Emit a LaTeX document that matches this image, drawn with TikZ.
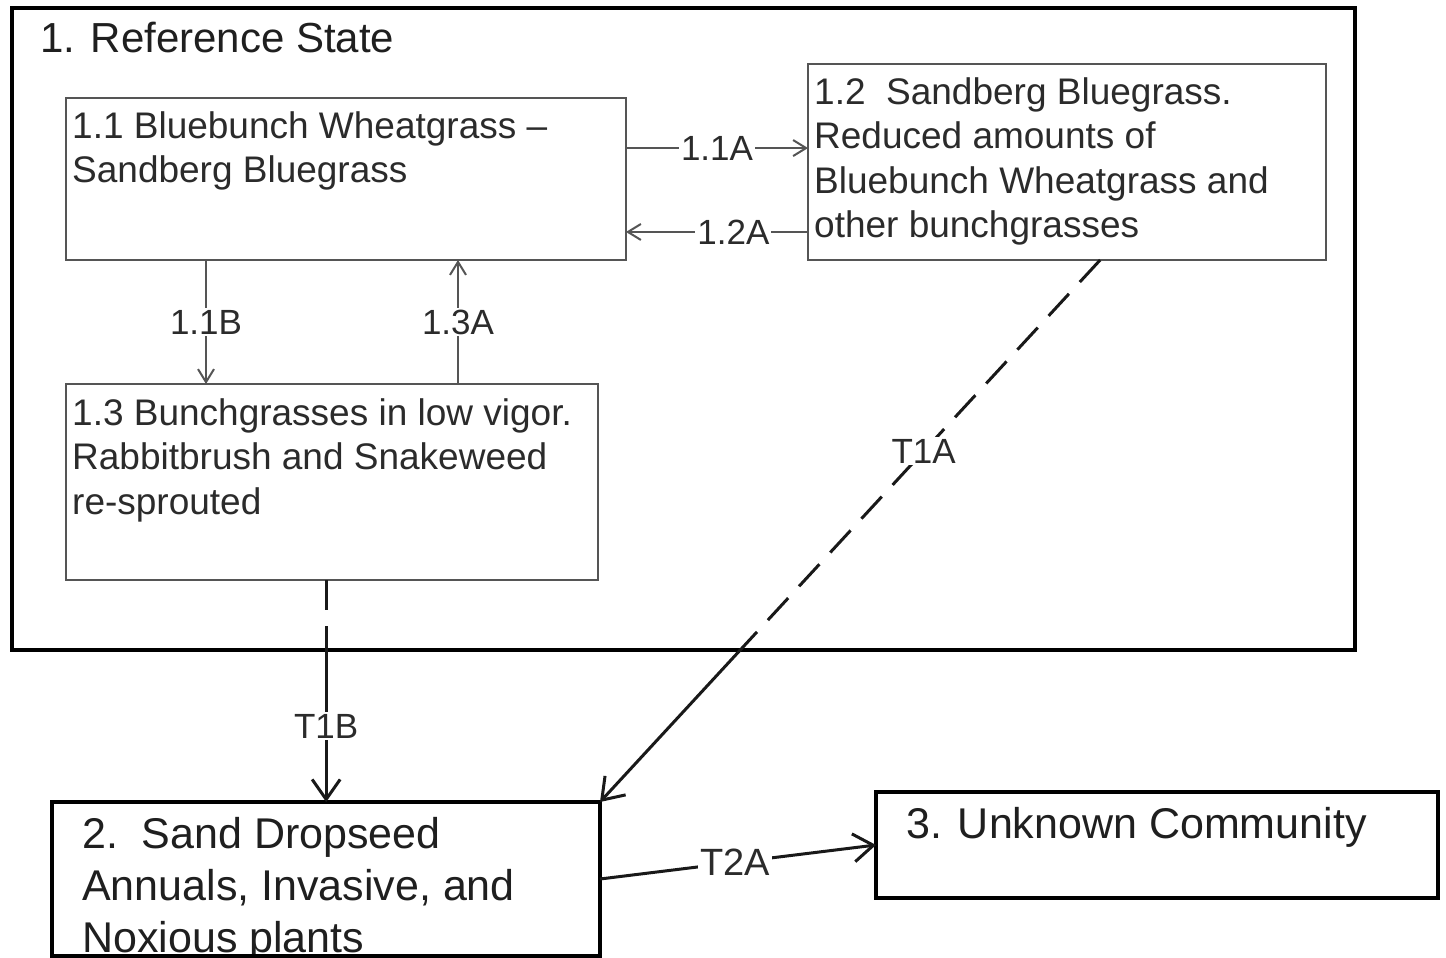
\documentclass[tikz,border=0pt]{standalone}
\usepackage{fontspec}
\setmainfont{Liberation Sans}
\usetikzlibrary{arrows.meta,calc}
\definecolor{boxgray}{HTML}{555555}
\definecolor{textgray}{HTML}{2B2B2B}
\begin{document}
\begin{tikzpicture}[x=1pt,y=-1pt,
  inbox/.style={draw=boxgray, line width=2.5pt, inner sep=0pt, outer sep=0pt, anchor=north west},
  outbox/.style={draw=black, line width=4.5pt, inner sep=0pt, outer sep=0pt, anchor=north west},
  boxtext/.style={anchor=north west, inner sep=0pt, align=left, text=textgray, font=\fontsize{37}{44.5}\selectfont},
  bigtext/.style={anchor=north west, inner sep=0pt, align=left, text=black!88, font=\fontsize{43}{52}\selectfont},
  lab/.style={fill=white, inner sep=2pt, text=textgray, font=\fontsize{35}{40}\selectfont},
  inarrow/.style={draw=boxgray, line width=2pt, -{Straight Barb[length=13pt,width=16pt,line width=2pt]}},
  inline/.style={draw=boxgray, line width=2pt},
  tline/.style={draw=black!90, line width=3pt},
  tarrow/.style={draw=black!90, line width=3pt, -{Straight Barb[length=20pt,width=28pt,line width=3pt]}},
  tdash/.style={draw=black!90, line width=3pt, dash pattern=on 30pt off 16pt}
]
\useasboundingbox (0,0) rectangle (1446,958);
\fill[white] (0,0) rectangle (1446,958);

% outer state box
\node[outbox, minimum width=1343pt, minimum height=642pt] (outer) at (12,8) {};
\node[anchor=north west, inner sep=0pt, text=black!88, font=\fontsize{42}{50}\selectfont] (title) at (40,22) {1. Reference State};

% community boxes
\node[inbox, minimum width=560pt, minimum height=162pt] (b11) at (66,98) {};
\node[boxtext] (t11) at (72,111) {1.1 Bluebunch Wheatgrass –\\Sandberg Bluegrass};

\node[inbox, minimum width=518pt, minimum height=196pt] (b12) at (808,64) {};
\node[boxtext] (t12) at (814,77) {1.2\ \ Sandberg Bluegrass.\\Reduced amounts of\\Bluebunch Wheatgrass and\\other bunchgrasses};

\node[inbox, minimum width=532pt, minimum height=196pt] (b13) at (66,384) {};
\node[boxtext] (t13) at (72,398) {1.3 Bunchgrasses in low vigor.\\Rabbitbrush and Snakeweed\\re-sprouted};

% state boxes 2 and 3
\node[bigtext] (t2) at (82,817) {2.\ \ Sand Dropseed\\Annuals, Invasive, and\\Noxious plants};
\node[outbox, minimum width=548pt, minimum height=154pt] (b2) at (52,802) {};

\node[outbox, minimum width=562pt, minimum height=106pt] (b3) at (876,792) {};
\node[bigtext] (t3) at (906,807) {3. Unknown Community};

% inner transitions
\coordinate (a1) at ($(b11.north east)!0.309!(b11.south east)$);
\coordinate (a2) at ($(b11.north east)!0.827!(b11.south east)$);
\draw[inarrow] (a1) -- node[lab]{1.1A} (a1 -| b12.west);
\draw[inarrow] (a2 -| b12.west) -- node[lab, pos=0.41]{1.2A} (a2);

\coordinate (c1) at ($(b11.south west)!0.25!(b11.south east)$);
\coordinate (c2) at ($(b11.south west)!0.70!(b11.south east)$);
\draw[inarrow] (c1) -- node[lab]{1.1B} (c1 |- b13.north);
\draw[inarrow] (c2 |- b13.north) -- node[lab]{1.3A} (c2);

% T1B
\coordinate (d1) at ($(b13.south west)!0.489!(b13.south east)$);
\coordinate (d2) at (d1 |- outer.south);
\draw[tdash] (d1) -- (d2);
\draw[tarrow] (d2) -- node[lab, pos=0.5]{T1B} (d1 |- b2.north);

% T1A
\coordinate (e1) at ($(b12.south west)!0.564!(b12.south east)$);
\coordinate (e2) at ($(e1)!0.72!(b2.north east)$);
\draw[tdash] (e1) -- node[lab, pos=0.49]{T1A} (e2);
\draw[tarrow] (e2) -- (b2.north east);

% T2A
\draw[tarrow] (b2.east) -- node[lab, pos=0.49, font=\fontsize{38}{44}\selectfont]{T2A} (b3.west);
\end{tikzpicture}
\end{document}
